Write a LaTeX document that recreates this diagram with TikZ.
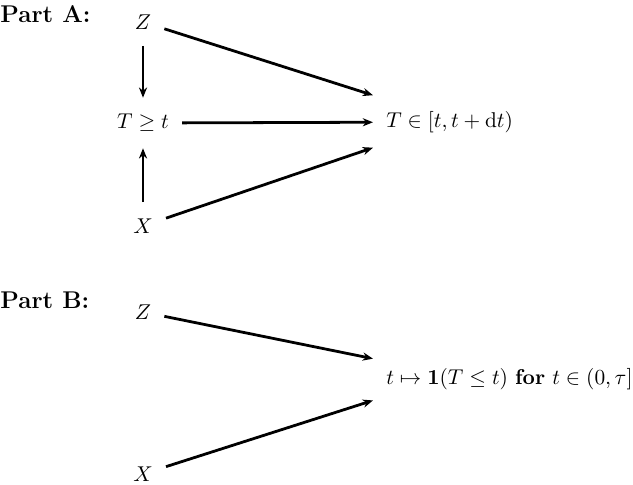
\documentclass[tikz,border=0pt]{standalone}
\usepackage{amsmath}
\usepackage{amssymb}
\usepackage{tikz}
\usetikzlibrary{arrows.meta, positioning}

\begin{document}
\begin{tikzpicture}[x=0.467pt, y=-0.467pt,
    arr/.style={-{Stealth[length=4.8pt, width=3.8pt]}, line width=1.3pt},
    var/.style={inner xsep=6pt, inner ysep=7.5pt},
    part/.style={anchor=west, inner sep=0pt, font=\fontsize{11.3}{13}\selectfont\bfseries}]
\useasboundingbox (0,0) rectangle (633,484);

% Part A
\node[part] (partA) at (0,14) {Part A:};
\node[var] (zA) at (143,22) {$Z$};
\node[var] (tA) at (143,123) {$T \geq t$};
\node[var] (xA) at (143,226) {$X$};
\node[var, anchor=west] (dA) at (373,122) {$T \in [t, t+\mathrm{d}t)$};
\draw[arr] (zA) -- (tA);
\draw[arr] (xA) -- (tA);
\draw[arr] (zA) -- ([yshift=12.5pt]dA.west);
\draw[arr] (tA) -- (dA);
\draw[arr] (xA) -- ([yshift=-12pt]dA.west);

% Part B
\node[part] (partB) at (0,300) {Part B:};
\node[var] (zB) at (143,312) {$Z$};
\node[var] (xB) at (143,474) {$X$};
\node[var, anchor=west] (dB) at (373,379) {$t \mapsto \mathbf{1}(T \leq t)$ \textbf{for} $t \in (0, \tau]$};
\draw[arr] (zB) -- ([yshift=9.5pt]dB.west);
\draw[arr] (xB) -- ([yshift=-10pt]dB.west);
\end{tikzpicture}
\end{document}
